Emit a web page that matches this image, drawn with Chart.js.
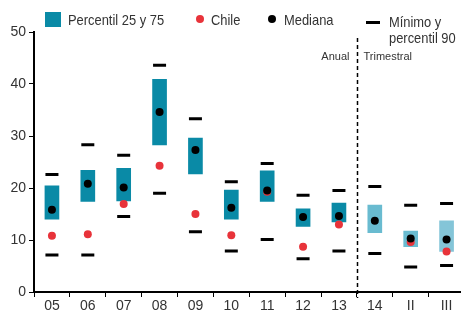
<!DOCTYPE html>
<html>
<head>
<meta charset="utf-8">
<script src="https://cdn.jsdelivr.net/npm/chart.js@4/dist/chart.umd.min.js"></script>
<style>
  body { margin: 0; overflow: hidden; background: #fff; }
  #wrap { position: relative; width: 474px; height: 312px; font-family: 'Liberation Sans', sans-serif; color: #333; }
  .lg { position: absolute; font-size: 15px; line-height: 16px; white-space: nowrap; transform: scaleX(0.86); transform-origin: 0 0; }
  .sw { position: absolute; }
</style>
</head>
<body>
<div id="wrap">
  <canvas id="chart" width="474" height="312"></canvas>
  <div class="sw" style="left:45px;top:12px;width:16px;height:15px;background:#0a8aa6"></div>
  <div class="lg" style="left:68px;top:12px">Percentil 25 y 75</div>
  <div class="sw" style="left:196px;top:15px;width:8px;height:8px;border-radius:50%;background:#e8333a"></div>
  <div class="lg" style="left:211px;top:12px">Chile</div>
  <div class="sw" style="left:268px;top:15px;width:8px;height:8px;border-radius:50%;background:#000"></div>
  <div class="lg" style="left:284px;top:12px">Mediana</div>
  <div class="sw" style="left:366px;top:21px;width:14px;height:3px;background:#000"></div>
  <div class="lg" style="left:389px;top:14px">Mínimo y<br>percentil 90</div>
</div>
<script>
const labels = ['05', '06', '07', '08', '09', '10', '11', '12', '13', '14', 'II', 'III'];
const percentil25 = [14.0, 17.4, 17.5, 28.3, 22.7, 14.0, 17.4, 12.6, 13.5, 11.4, 8.7, 7.8];
const percentil75 = [20.4, 23.4, 23.8, 40.9, 29.6, 19.6, 23.3, 16.0, 17.1, 16.7, 11.7, 13.7];
const mediana = [15.8, 20.8, 20.1, 34.6, 27.3, 16.2, 19.5, 14.4, 14.6, 13.7, 10.3, 10.1];
const chile = [10.8, 11.1, 16.9, 24.3, 15.0, 10.9, 19.3, 8.7, 13.0, null, 9.6, 7.8];
const minimo = [7.1, 7.1, 14.5, 19.0, 11.6, 7.9, 10.1, 6.4, 7.9, 7.4, 4.8, 5.1];
const percentil90 = [22.6, 28.3, 26.3, 43.6, 33.3, 21.2, 24.7, 18.6, 19.5, 20.3, 16.7, 17.0];

const ANNUAL_COUNT = 9;
const FONT = {family: "'Liberation Sans', sans-serif", size: 14};

const boxColors = labels.map((label, i) => {
  if (i < ANNUAL_COUNT) {
    return '#0a8aa6';
  }
  return i === labels.length - 1 ? '#84c5d8' : '#69bbd0';
});

// linea punteada entre datos anuales y trimestrales
const dividerPlugin = {
  id: 'divider',
  afterDatasetsDraw(chart) {
    const {ctx, chartArea, scales: {x}} = chart;
    const xPos = Math.round((x.getPixelForTick(ANNUAL_COUNT - 1) + x.getPixelForTick(ANNUAL_COUNT)) / 2) + 0.5;
    ctx.save();
    ctx.strokeStyle = '#000';
    ctx.lineWidth = 1.5;
    ctx.setLineDash([4, 3]);
    ctx.beginPath();
    ctx.moveTo(xPos, chartArea.top + 6);
    ctx.lineTo(xPos, chartArea.bottom + 6);
    ctx.stroke();
    ctx.setLineDash([]);
    ctx.fillStyle = '#333';
    ctx.font = "11px 'Liberation Sans', sans-serif";
    ctx.textBaseline = 'middle';
    ctx.textAlign = 'right';
    ctx.fillText('Anual', xPos - 8, chartArea.top + 25);
    ctx.textAlign = 'left';
    ctx.fillText('Trimestral', xPos + 6, chartArea.top + 25);
    ctx.restore();
  }
};

const pointSet = (label, data, style, order) => Object.assign({
  type: 'line',
  label: label,
  data: data,
  showLine: false,
  order: order
}, style);

new Chart(document.getElementById('chart'), {
  type: 'bar',
  data: {
    labels: labels,
    datasets: [
      pointSet('Mediana', mediana, {
        pointStyle: 'circle', pointRadius: 4, pointBackgroundColor: '#000', pointBorderWidth: 0
      }, 0),
      pointSet('Chile', chile, {
        pointStyle: 'circle', pointRadius: 4, pointBackgroundColor: '#e8333a', pointBorderWidth: 0
      }, 1),
      pointSet('Mínimo', minimo, {
        pointStyle: 'line', pointRadius: 6.5, pointBorderColor: '#000', pointBorderWidth: 3
      }, 2),
      pointSet('Percentil 90', percentil90, {
        pointStyle: 'line', pointRadius: 6.5, pointBorderColor: '#000', pointBorderWidth: 3
      }, 2),
      {
        label: 'Percentil 25 y 75',
        data: percentil25.map((low, i) => [low, percentil75[i]]),
        backgroundColor: boxColors,
        borderWidth: 0,
        barThickness: 14,
        order: 3
      }
    ]
  },
  options: {
    responsive: false,
    animation: false,
    events: [],
    layout: {padding: {top: 32, right: 0, left: 0, bottom: 0}},
    plugins: {legend: {display: false}, tooltip: {enabled: false}},
    scales: {
      x: {
        offset: true,
        grid: {offset: true, drawOnChartArea: false, tickLength: 5, tickColor: '#000'},
        border: {color: '#000', width: 2},
        ticks: {font: FONT, color: '#333', padding: 1, maxRotation: 0},
        afterFit(scale) {
          scale.height = 20;
        }
      },
      y: {
        min: 0,
        max: 50,
        ticks: {stepSize: 10, font: FONT, color: '#333', padding: 3},
        grid: {drawOnChartArea: false, tickLength: 5, tickColor: '#000'},
        border: {color: '#000', width: 2},
        afterFit(scale) {
          scale.width = 34;
        }
      }
    }
  },
  plugins: [dividerPlugin]
});
</script>
</body>
</html>
